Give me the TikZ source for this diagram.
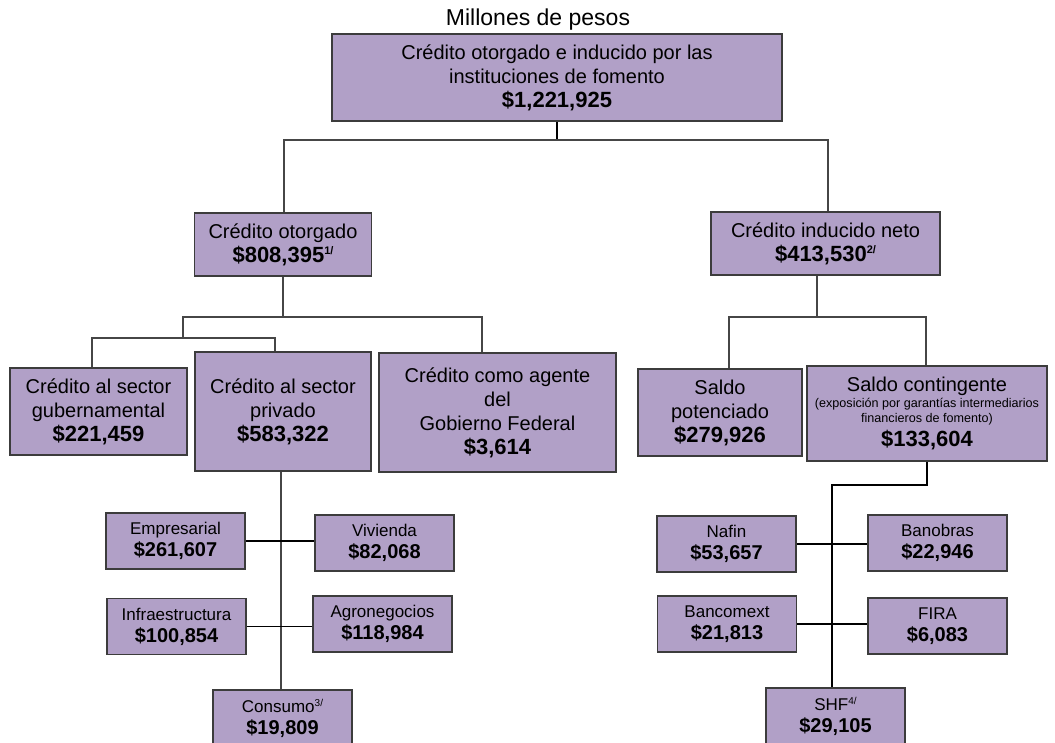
\documentclass[tikz,border=0pt]{standalone}
\usepackage{fontspec}
\setmainfont{Liberation Sans}
\usetikzlibrary{positioning}
\definecolor{lila}{RGB}{177,160,199}
\definecolor{borde}{RGB}{60,60,60}
\definecolor{conector}{RGB}{70,70,70}
\newcommand{\cifra}[1]{{\fontsize{22}{24}\selectfont\bfseries #1}}
\newcommand{\cifrita}[1]{{\fontsize{20}{22}\selectfont\bfseries #1}}
\newcommand{\nota}[1]{\raisebox{8pt}{\fontsize{11}{11}\selectfont #1}}
\newcommand{\notita}[1]{\raisebox{6.5pt}{\fontsize{10}{10}\selectfont #1}}
\tikzset{
  caja/.style 2 args={draw=borde,fill=lila,line width=1.6pt,inner sep=0pt,align=center,
    minimum width=#1,minimum height=#2,font=\fontsize{20}{24}\selectfont},
  cajita/.style={draw=borde,fill=lila,line width=1.6pt,inner sep=0pt,align=center,
    minimum width=139,minimum height=56,font=\fontsize{17}{22}\selectfont},
  titulo/.style={font=\fontsize{23}{26}\selectfont,inner sep=0pt},
  linea/.style={draw=conector,line width=1.3pt},
}
\begin{document}
\begin{tikzpicture}[x=1pt,y=-1pt]
  \useasboundingbox (0,0) rectangle (1055,742);
  \node[titulo] (tit) at (538,20) {Millones de pesos};
  \node[caja={450}{87}] (total) at (557,77.5) {Crédito otorgado e inducido por las\\instituciones de fomento\\\cifra{\$1,221,925}};
  % primer nivel
  \node[caja={177}{63}] (otorgado) at (283,244.5) {Crédito otorgado\\\cifra{\$808,395\nota{1/}}};
  \node[caja={229}{63}] (inducido) at (825.5,243.5) {Crédito inducido neto\\\cifra{\$413,530\nota{2/}}};
  % segundo nivel
  \node[caja={177}{87}] (guber) at (98.5,411.5) {Crédito al sector\\gubernamental\\\cifra{\$221,459}};
  \node[caja={176}{119}] (privado) at (283,411.5) {Crédito al sector\\privado\\\cifra{\$583,322}};
  \node[caja={237}{119}] (agente) at (497.5,412.5) {Crédito como agente\\del\\Gobierno Federal\\\cifra{\$3,614}};
  \node[caja={164}{87}] (potenciado) at (720,412.5) {Saldo\\potenciado\\\cifra{\$279,926}};
  \node[caja={240}{95}] (contingente) at (927,413.5) {Saldo contingente\\[-8pt]
    {\fontsize{12.6}{15}\selectfont(exposición por garantías intermediarios}\\[-9pt]
    {\fontsize{12.6}{15}\selectfont financieros de fomento)}\\
    \cifra{\$133,604}};
  % sector privado
  \node[cajita] (emp) at (175.5,541) {Empresarial\\\cifrita{\$261,607}};
  \node[cajita] (viv) at (384.5,543) {Vivienda\\\cifrita{\$82,068}};
  \node[cajita] (inf) at (176.5,626.5) {Infraestructura\\\cifrita{\$100,854}};
  \node[cajita] (agr) at (382.5,624) {Agronegocios\\\cifrita{\$118,984}};
  \node[cajita,minimum height=57] (cons) at (282.5,718.5) {Consumo\notita{3/}\\\cifrita{\$19,809}};
  % garantias
  \node[cajita] (naf) at (726.5,544) {Nafin\\\cifrita{\$53,657}};
  \node[cajita] (ban) at (937.5,543) {Banobras\\\cifrita{\$22,946}};
  \node[cajita] (bcx) at (727,624) {Bancomext\\\cifrita{\$21,813}};
  \node[cajita] (fira) at (937.5,626) {FIRA\\\cifrita{\$6,083}};
  \node[cajita,minimum height=57] (shf) at (835.5,716.5) {SHF\notita{4/}\\\cifrita{\$29,105}};
  % conectores
  \coordinate (jt) at (557,140);
  \coordinate (jo) at (283,317);
  \coordinate (jg) at (183,338);
  \coordinate (ji) at (817,317);
  \coordinate (jc) at (832,485);
  \draw[linea,draw=black] (total.south) -- (jt);
  \draw[linea] ([xshift=1pt]otorgado.north) |- (jt) -| ([xshift=2.5pt]inducido.north);
  \draw[linea] (otorgado.south) -- (jo);
  \draw[linea] (jg) -- (jg |- jo) -| ([xshift=-15.5pt]agente.north);
  \draw[linea] ([xshift=-6.5pt]guber.north) |- (jg) -| ([xshift=-8pt]privado.north);
  \draw[linea] ([xshift=-8.5pt]inducido.south) -- (ji);
  \draw[linea] ([xshift=9pt]potenciado.north) |- (ji) -| ([xshift=-1pt]contingente.north);
  \draw[linea] ([xshift=-2pt]privado.south) -- ([xshift=-1.5pt]cons.north);
  \draw[linea,draw=black] (contingente.south) |- (jc) -- (jc |- shf.north);
  \foreach \a/\b in {emp/viv,inf/agr,naf/ban,bcx/fira}
    \draw[linea,draw=black] (\a.east) -- (\a.east -| \b.west);
\end{tikzpicture}
\end{document}
